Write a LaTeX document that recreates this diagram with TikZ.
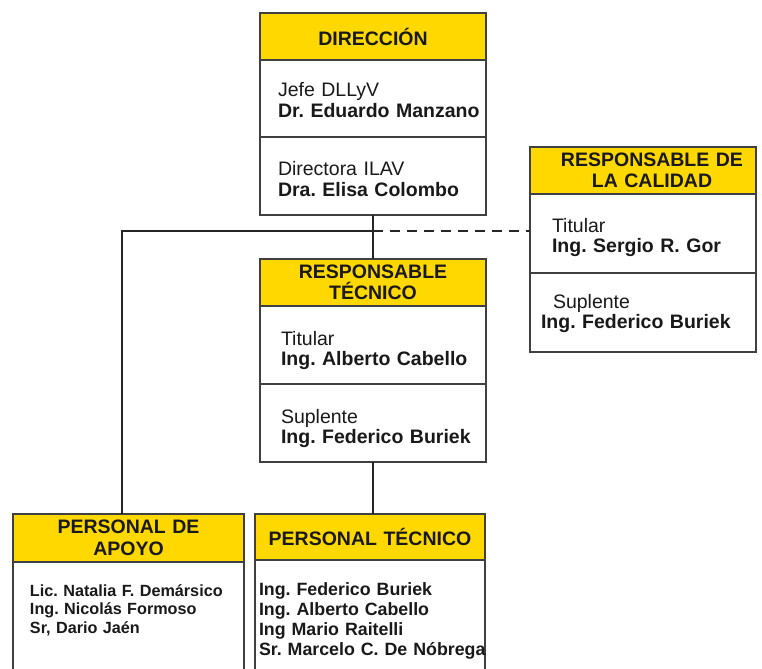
\documentclass[tikz,border=0pt]{standalone}
\usepackage{fontspec}
\setmainfont{Liberation Sans}
\usetikzlibrary{positioning}
\definecolor{amarillo}{HTML}{FFD800}
\frenchspacing

\begin{document}
\begin{tikzpicture}[
    x=0.5pt, y=-0.5pt,
    box line/.style={draw=black!75, line width=1pt, outer sep=0pt},
    head/.style={box line, fill=amarillo, anchor=north west, inner sep=0pt,
        align=center, text=black!90, font=\fontsize{9.75}{10.75}\selectfont\bfseries},
    cell/.style={box line, fill=white, anchor=north west, inner sep=0pt, align=left,
        text=black!90, text height=19pt, text depth=20pt,
        font=\fontsize{9.75}{10.25}\selectfont},
    margen/.style={execute at begin node={\leftskip=#1\rightskip=0pt plus 1fil minus 40pt\relax}},
    link/.style={line width=1pt, black!85},
]

    % === Frame ===
    \useasboundingbox (0,0) rectangle (762,669);

    % === Dirección ===
    \node[head, text width=113pt, minimum height=23.5pt] (dirHead) at (260,13) {DIRECCIÓN};
    \node[cell, margen=9pt, text width=113pt, text height=18.5pt] (dirA) at (dirHead.south west)
        {Jefe DLLyV\\\textbf{Dr. Eduardo Manzano}};
    \node[cell, margen=9pt, text width=113pt, text height=19.5pt, text depth=19.5pt] (dirB) at (dirA.south west)
        {Directora ILAV\\\textbf{Dra. Elisa Colombo}};

    % === Responsable de la calidad ===
    \node[head, text width=113pt, minimum height=23.5pt] (calHead) at (530,147)
        {\hspace*{9pt}RESPONSABLE DE\\\hspace*{9pt}LA CALIDAD};
    \node[cell, margen=11pt, text width=113pt, text height=19pt, text depth=20.5pt] (calA) at (calHead.south west)
        {Titular\\\textbf{Ing. Sergio R. Gor}};
    \node[cell, margen=5.5pt, text width=113pt, text height=17.5pt, text depth=22pt] (calB) at (calA.south west)
        {\hspace*{6pt}Suplente\\\textbf{Ing. Federico Buriek}};

    % === Responsable técnico ===
    \node[head, text width=113pt, minimum height=23.5pt] (rtHead) at (260,259) {RESPONSABLE\\TÉCNICO};
    \node[cell, margen=10.5pt, text width=113pt, text height=19.5pt, text depth=19.5pt] (rtA) at (rtHead.south west)
        {Titular\\\textbf{Ing. Alberto Cabello}};
    \node[cell, margen=10.5pt, text width=113pt, text height=19.5pt, text depth=19.5pt] (rtB) at (rtA.south west)
        {Suplente\\\textbf{Ing. Federico Buriek}};

    % === Personal de apoyo ===
    \node[head, text width=115.5pt, minimum height=24pt] (apoHead) at (13,514) {PERSONAL DE\\APOYO};
    \node[cell, margen=8.5pt, text width=115.5pt, text height=17pt, text depth=42pt,
        font=\fontsize{8.1}{9.25}\selectfont\bfseries] (apoB) at (apoHead.south west)
        {Lic. Natalia F. Demársico\\Ing. Nicolás Formoso\\Sr, Dario Jaén};

    % === Personal técnico ===
    \node[head, text width=115pt, minimum height=23pt] (ptHead) at (255,514) {PERSONAL TÉCNICO};
    \node[cell, margen=2pt, text width=115pt, text height=17.5pt, text depth=42.5pt,
        font=\fontsize{8.9}{10.15}\selectfont\bfseries] (ptB) at (ptHead.south west)
        {Ing. Federico Buriek\\Ing. Alberto Cabello\\Ing Mario Raitelli\\Sr. Marcelo C. De Nóbrega};

    % === Links ===
    \coordinate (cruce) at (dirB.south |- 0,231);
    \draw[link] (dirB.south) -- (rtHead.north);
    \draw[link] ([xshift=-3.25pt]apoHead.north) |- (cruce);
    \draw[link, dash pattern=on 5pt off 3.5pt] (cruce) -- (cruce -| calA.west);
    \draw[link] (rtB.south) -- (rtB.south |- ptHead.north);

\end{tikzpicture}
\end{document}
